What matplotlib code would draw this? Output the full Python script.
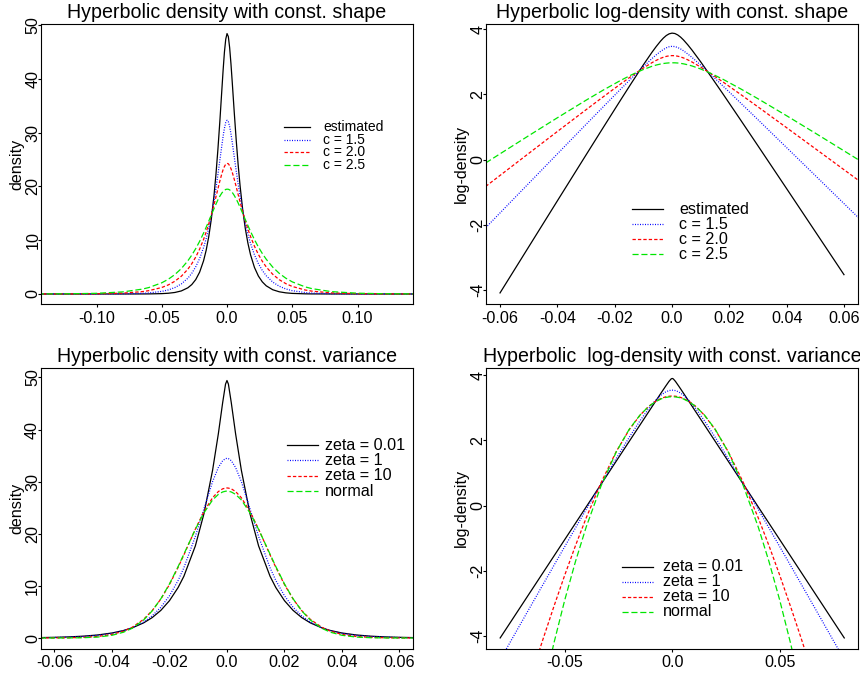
import matplotlib
matplotlib.use("Agg")
import matplotlib.pyplot as plt

plt.rcParams['font.family'] = ['Liberation Sans', 'DejaVu Sans']
plt.rcParams['lines.scale_dashes'] = False

# ---- hyperbolic, constant shape (top row) ----
x_shape_dens = [-0.145, -0.12, -0.10, -0.08, -0.065, -0.06, -0.05, -0.045, -0.04, -0.035,
                -0.03, -0.027, -0.024, -0.021, -0.018, -0.016, -0.014, -0.012, -0.010, -0.0085,
                -0.007, -0.0055, -0.004, -0.003, -0.002, -0.001, 0.0,
                0.001, 0.002, 0.003, 0.004, 0.0055, 0.007, 0.0085, 0.010, 0.012, 0.014,
                0.016, 0.018, 0.021, 0.024, 0.027, 0.03, 0.035, 0.04, 0.045, 0.05,
                0.06, 0.065, 0.08, 0.10, 0.12, 0.145]
dens_est = [0.0, 0.0, 0.0001, 0.0010, 0.0083, 0.0167, 0.0687, 0.1393, 0.282, 0.5706,
            1.153, 1.756, 2.672, 4.059, 6.160, 8.117, 10.68, 14.00, 18.28, 22.22,
            26.87, 32.14, 37.86, 41.63, 44.97, 47.37, 48.42,
            47.85, 45.79, 42.82, 39.33, 33.85, 28.70, 24.07, 20.09, 15.66, 12.16,
            9.431, 7.286, 4.938, 3.343, 2.259, 1.525, 0.7906, 0.410, 0.2120, 0.1097,
            0.0293, 0.0151, 0.0021, 0.0001, 0.0, 0.0]
dens_c15 = [0.0001, 0.0008, 0.0052, 0.0317, 0.1238, 0.1948, 0.4819, 0.7581, 1.191, 1.872,
            2.942, 3.850, 5.048, 6.600, 8.620, 10.29, 12.27, 14.60, 17.32, 19.65,
            22.18, 24.88, 27.61, 29.34, 30.81, 31.88, 32.30,
            32.04, 31.12, 29.78, 28.16, 25.53, 22.94, 20.45, 18.17, 15.47, 13.11,
            11.10, 9.393, 7.294, 5.658, 4.384, 3.397, 2.214, 1.443, 0.9408, 0.6126,
            0.2592, 0.1688, 0.0465, 0.0083, 0.0015, 0.0002]
dens_c20 = [0.0019, 0.0106, 0.0411, 0.1593, 0.4391, 0.6151, 1.208, 1.690, 2.368, 3.307,
            4.614, 5.629, 6.862, 8.344, 10.13, 11.51, 13.05, 14.75, 16.59, 18.05,
            19.55, 21.01, 22.36, 23.13, 23.71, 24.13, 24.29,
            24.21, 23.85, 23.31, 22.62, 21.35, 19.95, 18.51, 17.10, 15.27, 13.59,
            12.06, 10.68, 8.878, 7.360, 6.086, 5.038, 3.662, 2.659, 1.929, 1.398,
            0.7334, 0.5310, 0.2013, 0.0551, 0.0151, 0.0030]
dens_c25 = [0.0097, 0.0403, 0.1253, 0.3879, 0.9021, 1.194, 2.081, 2.744, 3.607, 4.730,
            6.178, 7.229, 8.432, 9.793, 11.31, 12.41, 13.55, 14.72, 15.86, 16.71,
            17.50, 18.19, 18.77, 19.07, 19.28, 19.44, 19.49,
            19.47, 19.36, 19.15, 18.88, 18.33, 17.67, 16.93, 16.12, 14.98, 13.84,
            12.72, 11.63, 10.11, 8.74, 7.538, 6.47, 4.993, 3.838, 2.942, 2.250,
            1.309, 0.997, 0.4391, 0.1461, 0.0485, 0.0122]

x_est_log = [-0.06, -0.05, -0.04, -0.03, -0.024, -0.018, -0.014, -0.010, -0.007, -0.0055,
             -0.004, -0.003, -0.002, -0.001, 0.0, 0.001, 0.002, 0.003, 0.004, 0.0055,
             0.007, 0.010, 0.014, 0.018, 0.024, 0.03, 0.04, 0.05, 0.06]
logd_est = [-4.090, -2.678, -1.266, 0.142, 0.983, 1.818, 2.368, 2.906, 3.291, 3.470,
            3.634, 3.729, 3.806, 3.858, 3.880, 3.868, 3.824, 3.757, 3.672, 3.522,
            3.357, 3.000, 2.498, 1.986, 1.207, 0.422, -0.892, -2.210, -3.530]
x_shape_log = [-0.065, -0.06, -0.05, -0.04, -0.03, -0.024, -0.018, -0.014, -0.010, -0.007,
               -0.0055, -0.004, -0.003, -0.002, -0.001, 0.0, 0.001, 0.002, 0.003, 0.004,
               0.0055, 0.007, 0.010, 0.014, 0.018, 0.024, 0.03, 0.04, 0.05, 0.06, 0.065]
logd_c15 = [-2.089, -1.636, -0.730, 0.175, 1.079, 1.619, 2.154, 2.507, 2.852, 3.099,
            3.214, 3.318, 3.379, 3.428, 3.462, 3.475, 3.467, 3.438, 3.394, 3.338,
            3.240, 3.133, 2.900, 2.573, 2.240, 1.733, 1.223, 0.367, -0.490, -1.350, -1.779]
logd_c20 = [-0.823, -0.486, 0.189, 0.862, 1.529, 1.926, 2.316, 2.569, 2.809, 2.973,
            3.045, 3.107, 3.141, 3.166, 3.184, 3.190, 3.187, 3.172, 3.149, 3.119,
            3.061, 2.993, 2.839, 2.609, 2.368, 1.996, 1.617, 0.978, 0.335, -0.310, -0.633]
logd_c25 = [-0.103, 0.177, 0.733, 1.283, 1.821, 2.132, 2.426, 2.606, 2.764, 2.862,
            2.901, 2.932, 2.948, 2.959, 2.967, 2.970, 2.969, 2.963, 2.952, 2.938,
            2.909, 2.872, 2.780, 2.628, 2.454, 2.168, 1.867, 1.345, 0.811, 0.269, -0.003]

# ---- hyperbolic, constant variance (bottom row) ----
x_var_dens = [-0.065, -0.06, -0.055, -0.05, -0.045, -0.04, -0.036, -0.033, -0.029, -0.026,
              -0.023, -0.02, -0.017, -0.015, -0.011, -0.008, -0.005, -0.003, -0.0015, -0.0005,
              0.0, 0.0005, 0.0015, 0.003, 0.005, 0.008, 0.011, 0.015, 0.017, 0.02,
              0.023, 0.026, 0.029, 0.033, 0.036, 0.04, 0.045, 0.05, 0.055, 0.06, 0.065]
dens_z001 = [0.078, 0.129, 0.213, 0.352, 0.581, 0.961, 1.436, 1.941, 2.901, 3.920,
             5.299, 7.163, 9.679, 11.83, 17.67, 23.86, 32.20, 39.18, 45.15, 48.71,
             49.40, 48.71, 45.15, 39.18, 32.20, 23.86, 17.67, 11.83, 9.679, 7.163,
             5.299, 3.920, 2.901, 1.941, 1.436, 0.961, 0.581, 0.352, 0.213, 0.129, 0.078]
dens_z1 = [0.050, 0.090, 0.160, 0.284, 0.503, 0.890, 1.399, 1.960, 3.062, 4.259,
           5.894, 8.109, 11.03, 13.46, 19.49, 24.80, 30.02, 32.71, 34.02, 34.42,
           34.47, 34.42, 34.02, 32.71, 30.02, 24.80, 19.49, 13.46, 11.03, 8.109,
           5.894, 4.259, 3.062, 1.960, 1.399, 0.890, 0.503, 0.284, 0.160, 0.090, 0.050]
dens_z10 = [0.006, 0.017, 0.046, 0.118, 0.292, 0.687, 1.302, 2.046, 3.579, 5.259,
            7.478, 10.26, 13.55, 15.94, 20.89, 24.26, 26.92, 28.10, 28.62, 28.76,
            28.79, 28.76, 28.62, 28.10, 26.92, 24.26, 20.89, 15.94, 13.55, 10.26,
            7.478, 5.259, 3.579, 2.046, 1.302, 0.687, 0.292, 0.118, 0.046, 0.017, 0.006]
dens_norm = [0.001, 0.004, 0.015, 0.055, 0.179, 0.518, 1.108, 1.857, 3.452, 5.212,
             7.523, 10.38, 13.70, 16.07, 20.85, 24.02, 26.49, 27.56, 28.02, 28.16,
             28.19, 28.16, 28.02, 27.56, 26.49, 24.02, 20.85, 16.07, 13.70, 10.38,
             7.523, 5.212, 3.452, 1.857, 1.108, 0.518, 0.179, 0.055, 0.015, 0.004, 0.001]

x_var_log = [-0.08, -0.075, -0.07, -0.065, -0.06, -0.055, -0.05, -0.045, -0.04, -0.033,
             -0.026, -0.02, -0.015, -0.011, -0.008, -0.005, -0.003, -0.0015, -0.0005, 0.0,
             0.0005, 0.0015, 0.003, 0.005, 0.008, 0.011, 0.015, 0.02, 0.026, 0.033,
             0.04, 0.045, 0.05, 0.055, 0.06, 0.065, 0.07, 0.075, 0.08]
logd_z001 = [-4.060, -3.558, -3.055, -2.553, -2.050, -1.548, -1.045, -0.543, -0.040, 0.663,
             1.366, 1.969, 2.471, 2.872, 3.172, 3.472, 3.668, 3.810, 3.886, 3.900,
             3.886, 3.810, 3.668, 3.472, 3.172, 2.872, 2.471, 1.969, 1.366, 0.663,
             -0.040, -0.543, -1.045, -1.548, -2.050, -2.553, -3.055, -3.558, -4.060]
logd_z1 = [-4.730, -4.149, -3.569, -2.990, -2.412, -1.835, -1.260, -0.687, -0.117, 0.673,
           1.449, 2.093, 2.600, 2.970, 3.211, 3.402, 3.488, 3.527, 3.539, 3.540,
           3.539, 3.527, 3.488, 3.402, 3.211, 2.970, 2.600, 2.093, 1.449, 0.673,
           -0.117, -0.687, -1.260, -1.835, -2.412, -2.990, -3.569, -4.149, -4.730]
logd_z10 = [-8.326, -7.230, -6.154, -5.103, -4.080, -3.090, -2.138, -1.231, -0.376, 0.716,
            1.660, 2.328, 2.769, 3.039, 3.189, 3.293, 3.336, 3.354, 3.359, 3.360,
            3.359, 3.354, 3.336, 3.293, 3.189, 3.039, 2.769, 2.328, 1.660, 0.716,
            -0.376, -1.231, -2.138, -3.090, -4.080, -5.103, -6.154, -7.230, -8.326]
logd_norm = [-12.64, -10.708, -8.898, -7.212, -5.651, -4.215, -2.904, -1.718, -0.657, 0.619,
             1.651, 2.340, 2.777, 3.037, 3.179, 3.277, 3.317, 3.333, 3.338, 3.339,
             3.338, 3.333, 3.317, 3.277, 3.179, 3.037, 2.777, 2.340, 1.651, 0.619,
             -0.657, -1.718, -2.904, -4.215, -5.651, -7.212, -8.898, -10.708, -12.64]

shape_labels = ["estimated", "c = 1.5", "c = 2.0", "c = 2.5"]
var_labels = ["zeta = 0.01", "zeta = 1", "zeta = 10", "normal"]

dens_ticks = [0, 10, 20, 30, 40, 50]
dens_ticklabels = ["0", "10", "20", "30", "40", "50"]
log_ticks = [-4, -2, 0, 2, 4]
log_ticklabels = ["-4", "-2", "0", "2", "4"]
x_ticks_wide = [-0.10, -0.05, 0.0, 0.05, 0.10]
x_ticklabels_wide = ["-0.10", "-0.05", "0.0", "0.05", "0.10"]
x_ticks_mid = [-0.06, -0.04, -0.02, 0.0, 0.02, 0.04, 0.06]
x_ticklabels_mid = ["-0.06", "-0.04", "-0.02", "0.0", "0.02", "0.04", "0.06"]
x_ticks_br = [-0.05, 0.0, 0.05]
x_ticklabels_br = ["-0.05", "0.0", "0.05"]

STYLES = [
    dict(color='black', lw=0.9, ls='-'),
    dict(color='blue', lw=0.9, ls=(0, (0.7, 1.1))),
    dict(color='red', lw=0.9, ls=(0, (2.4, 1.5))),
    dict(color='#00e600', lw=0.9, ls=(0, (4.4, 2.0))),
]

AX_FS = 11.6
TITLE_FS = 14.1


def style_axes(ax, title, ylabel, xlim, ylim, xt, xtl, yt, ytl):
    ax.set_xlim(*xlim)
    ax.set_ylim(*ylim)
    ax.set_xticks(xt, xtl)
    ax.set_yticks(yt, ytl)
    ax.tick_params(direction='out', length=2.2, width=0.8, labelsize=AX_FS)
    ax.tick_params(axis='x', pad=2.6)
    ax.tick_params(axis='y', pad=-1.8)
    plt.setp(ax.get_yticklabels(), rotation=90, va='center')
    for sp in ax.spines.values():
        sp.set_linewidth(0.8)
    ax.set_title(title, fontsize=TITLE_FS, pad=4)
    ax.set_ylabel(ylabel, fontsize=AX_FS)
    ax.yaxis.set_label_coords(-0.045, 0.5)


def draw_key(ax, labels, x0, x1, xt, y0, dy, size):
    for i, (lab, st) in enumerate(zip(labels, STYLES)):
        y = y0 - i * dy
        ax.plot([x0, x1], [y, y], transform=ax.transAxes, **st)
        ax.text(xt, y, lab, transform=ax.transAxes, ha='left', va='center', fontsize=size)


fig = plt.figure(figsize=(8.6, 6.76), dpi=100)
ax1 = fig.add_axes([0.0477, 0.5503, 0.4326, 0.4142])
ax2 = fig.add_axes([0.5651, 0.5503, 0.4326, 0.4142])
ax3 = fig.add_axes([0.0473, 0.0404, 0.4329, 0.4152])
ax4 = fig.add_axes([0.5651, 0.0404, 0.4326, 0.4152])

# top left: densities, constant shape
for y, st in zip([dens_est, dens_c15, dens_c20, dens_c25], STYLES):
    ax1.plot(x_shape_dens, y, **st)
style_axes(ax1, "Hyperbolic density with const. shape", "density",
           (-0.1425, 0.1425), (-1.86, 50.2), x_ticks_wide, x_ticklabels_wide,
           dens_ticks, dens_ticklabels)
draw_key(ax1, shape_labels, 0.653, 0.723, 0.758, 0.633, 0.0457, 10.0)

# top right: log-densities, constant shape
ax2.plot(x_est_log, logd_est, **STYLES[0])
for y, st in zip([logd_c15, logd_c20, logd_c25], STYLES[1:]):
    ax2.plot(x_shape_log, y, **st)
style_axes(ax2, "Hyperbolic log-density with const. shape", "log-density",
           (-0.0649, 0.0649), (-4.43, 4.16), x_ticks_mid, x_ticklabels_mid,
           log_ticks, log_ticklabels)
draw_key(ax2, shape_labels, 0.392, 0.477, 0.519, 0.338, 0.0536, AX_FS)

# bottom left: densities, constant variance
for y, st in zip([dens_z001, dens_z1, dens_z10, dens_norm], STYLES):
    ax3.plot(x_var_dens, y, **st)
style_axes(ax3, "Hyperbolic density with const. variance", "density",
           (-0.0648, 0.0647), (-2.05, 51.8), x_ticks_mid, x_ticklabels_mid,
           dens_ticks, dens_ticklabels)
draw_key(ax3, var_labels, 0.661, 0.745, 0.764, 0.725, 0.0545, AX_FS)

# bottom right: log-densities, constant variance
for y, st in zip([logd_z001, logd_z1, logd_z10, logd_norm], STYLES):
    ax4.plot(x_var_log, y, **st)
style_axes(ax4, "Hyperbolic  log-density with const. variance", "log-density",
           (-0.0866, 0.0864), (-4.39, 4.22), x_ticks_br, x_ticklabels_br,
           log_ticks, log_ticklabels)
draw_key(ax4, var_labels, 0.365, 0.450, 0.476, 0.292, 0.0534, AX_FS)

fig.savefig("out.png", dpi=100)
